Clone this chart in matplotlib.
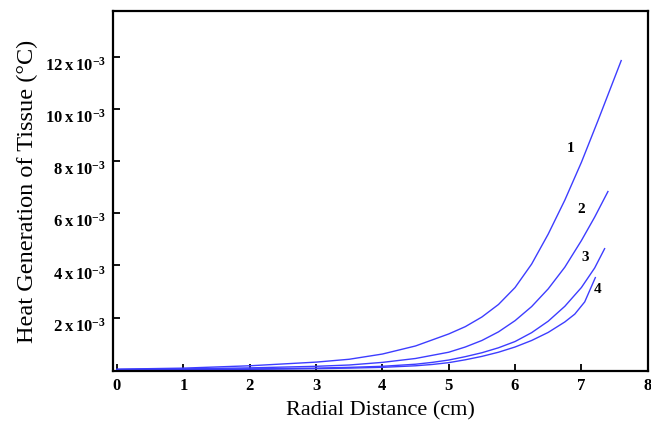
import matplotlib
matplotlib.use("Agg")
import matplotlib.pyplot as plt
import matplotlib.transforms as mtransforms
import numpy as np

plt.rcParams['font.family'] = ['Liberation Serif', 'DejaVu Serif']
plt.rcParams['mathtext.fontset'] = 'custom'
plt.rcParams['mathtext.rm'] = 'Liberation Serif'
plt.rcParams['mathtext.bf'] = 'Liberation Serif:bold'

# values (y in units of 1e-3)
x1 = [0, 1, 2, 3, 3.5, 4, 4.5, 5, 5.25, 5.5, 5.75, 6, 6.25, 6.5, 6.75, 7, 7.25, 7.6]
y1 = [0.02, 0.06, 0.15, 0.29, 0.40, 0.60, 0.91, 1.37, 1.65, 2.02, 2.5, 3.15, 4.05, 5.2, 6.5, 7.95, 9.55, 11.85]
x2 = [0, 1, 2, 3, 3.5, 4, 4.5, 5, 5.25, 5.5, 5.75, 6, 6.25, 6.5, 6.75, 7, 7.2, 7.4]
y2 = [0.01, 0.03, 0.07, 0.13, 0.18, 0.28, 0.43, 0.67, 0.87, 1.12, 1.45, 1.88, 2.42, 3.1, 3.93, 4.95, 5.85, 6.83]
x3 = [0, 1, 2, 3, 3.5, 4, 4.5, 4.75, 5, 5.25, 5.5, 5.75, 6, 6.25, 6.5, 6.75, 7, 7.2, 7.35]
y3 = [0.0, 0.01, 0.03, 0.06, 0.09, 0.13, 0.21, 0.28, 0.37, 0.5, 0.65, 0.84, 1.08, 1.42, 1.86, 2.43, 3.15, 3.9, 4.64]
x4 = [0, 1, 2, 3, 3.5, 4, 4.5, 4.75, 5, 5.25, 5.5, 5.75, 6, 6.25, 6.5, 6.75, 6.9, 7.05, 7.21]
y4 = [0.0, 0.005, 0.015, 0.04, 0.06, 0.09, 0.15, 0.2, 0.27, 0.38, 0.51, 0.67, 0.87, 1.12, 1.43, 1.83, 2.13, 2.6, 3.53]
curve_labels = ['1', '2', '3', '4']
label_pos = [(6.84, 8.47), (6.99, 6.13), (7.06, 4.29), (7.24, 3.07)]

xticks = [0, 1, 2, 3, 4, 5, 6, 7, 8]
yticks = [2, 4, 6, 8, 10, 12]

fig = plt.figure(figsize=(6.51, 4.24), dpi=100)
ax = fig.add_axes([0.1736, 0.125, 0.8214, 0.849])

for xs, ys in zip([x1, x2, x3, x4], [y1, y2, y3, y4]):
    ax.plot(xs, np.array(ys) * 1e-3, color='#3d3dff', lw=1.0)

for lab, (lx, ly) in zip(curve_labels, label_pos):
    ax.text(lx, ly * 1e-3, lab, fontsize=11, fontweight='bold', ha='center', va='center')

ax.set_xlim(-0.06, 7.96)
ax.set_ylim(-0.00005, 0.01375)
ax.set_xticks(xticks)
ax.set_xticklabels([str(t) for t in xticks], fontweight='bold', fontsize=12)
ax.set_yticks([t * 1e-3 for t in yticks])
ax.set_yticklabels([r'$\mathbf{%d\,x\,10^{-3}}$' % t for t in yticks], fontsize=12)
ax.tick_params(direction='in', length=5, width=1.3, pad=5)
# labels sit a bit below their ticks in the original
shift = mtransforms.ScaledTranslation(0, -5 / 72, fig.dpi_scale_trans)
for lbl in ax.get_yticklabels():
    lbl.set_transform(lbl.get_transform() + shift)
for s in ax.spines.values():
    s.set_linewidth(1.6)

ax.set_xlabel('Radial Distance (cm)', fontsize=16, labelpad=5)
ax.set_ylabel('Heat Generation of Tissue (\u00b0C)', fontsize=17.5, labelpad=5)

fig.savefig('out.png', dpi=100)
